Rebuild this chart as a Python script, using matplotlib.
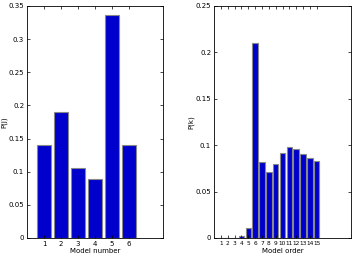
import numpy as np
import matplotlib.pyplot as plt

models = [1, 2, 3, 4, 5, 6]
p_model = [0.14, 0.19, 0.105, 0.089, 0.336, 0.14]

orders = list(range(1, 16))
p_order = [0.0, 0.0, 0.0, 0.002, 0.0105, 0.21, 0.082, 0.071, 0.080,
           0.092, 0.098, 0.0955, 0.0905, 0.086, 0.0825]

plt.rcParams['font.size'] = 5
fig = plt.figure(figsize=(3.54, 2.56), dpi=100)
ax1 = fig.add_axes([27/354, 18/256, 136/354, 232/256])
ax2 = fig.add_axes([214/354, 18/256, 137/354, 232/256])

for ax in (ax1, ax2):
    ax.tick_params(direction='in', top=True, right=True, length=2, width=0.5, pad=2)
    for s in ax.spines.values():
        s.set_linewidth(0.6)

ax1.bar(models, p_model, width=0.8, color='#0000cc', edgecolor='#888888', linewidth=0.8)
ax1.set_xlim(0, 8)
ax1.set_ylim(0, 0.35)
ax1.set_xticks(models)
ax1.set_yticks(np.arange(0, 0.351, 0.05))
ax1.set_yticklabels(['0', '0.05', '0.1', '0.15', '0.2', '0.25', '0.3', '0.35'])
ax1.set_xlabel('Model number', labelpad=1)
ax1.set_ylabel('P(j)', labelpad=1)

ax2.bar(orders, p_order, width=0.8, color='#0000cc', edgecolor='#888888', linewidth=0.8)
ax2.set_xlim(0, 20)
ax2.set_ylim(0, 0.25)
ax2.set_xticks(orders)
ax2.set_xticklabels([str(o) for o in orders], fontsize=4.2)
ax2.set_yticks(np.arange(0, 0.251, 0.05))
ax2.set_yticklabels(['0', '0.05', '0.1', '0.15', '0.2', '0.25'])
ax2.set_xlabel('Model order', labelpad=1.5)
ax2.set_ylabel('P(k)', labelpad=1)

fig.savefig('out.png', dpi=100)
